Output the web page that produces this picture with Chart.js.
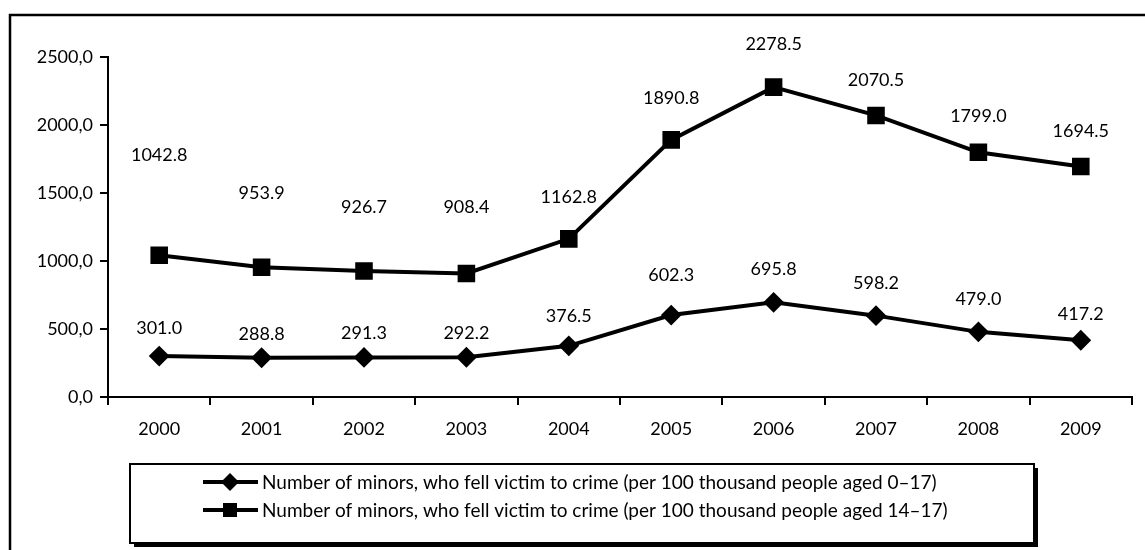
<!DOCTYPE html>
<html>
<head>
<meta charset="utf-8">
<script src="https://cdn.jsdelivr.net/npm/chart.js@4"></script>
<style>
  html, body { margin: 0; padding: 0; background: #fff; }
  #wrap { width: 1145px; height: 550px; position: relative; }
</style>
</head>
<body>
<div id="wrap"><canvas id="chart"></canvas></div>
<script>
/***********************
 * DATA
 ***********************/
const years = ["2000", "2001", "2002", "2003", "2004", "2005", "2006", "2007", "2008", "2009"];
const aged0to17 = [301.0, 288.8, 291.3, 292.2, 376.5, 602.3, 695.8, 598.2, 479.0, 417.2];
const aged14to17 = [1042.8, 953.9, 926.7, 908.4, 1162.8, 1890.8, 2278.5, 2070.5, 1799.0, 1694.5];
const seriesNames = [
  "Number of minors, who fell victim to crime (per 100 thousand people aged 0\u201317)",
  "Number of minors, who fell victim to crime (per 100 thousand people aged 14\u201317)",
];

// how far above its point each value label sits (px), as placed in the original
const liftDiamond = [28, 24, 24, 24, 30, 40, 33, 32, 33, 26];
const liftSquare = [100, 74, 64, 66, 42, 42, 43, 35, 36, 35];

const FONT = "Lato, 'Open Sans', sans-serif";
const FS = 18;
const LEGEND_FS = 19;

/***********************
 * Plugins
 ***********************/
const frame = {
  id: "frame",
  beforeDraw(chart) {
    const c = chart.ctx;
    c.save();
    c.fillStyle = "#fff";
    c.fillRect(0, 0, chart.width, chart.height);
    c.strokeStyle = "#000";
    c.lineWidth = 2.5;
    c.beginPath();
    c.moveTo(10, chart.height);
    c.lineTo(10, 15);
    c.lineTo(chart.width, 15);
    c.stroke();
    c.restore();
  },
};

const valueLabels = {
  id: "valueLabels",
  afterDatasetsDraw(chart) {
    const c = chart.ctx;
    c.save();
    c.font = `${FS}px ${FONT}`;
    c.fillStyle = "#000";
    c.textAlign = "center";
    c.textBaseline = "middle";
    const lifts = [liftDiamond, liftSquare];
    chart.data.datasets.forEach((ds, i) => {
      chart.getDatasetMeta(i).data.forEach((p, j) => {
        c.fillText(ds.data[j].toFixed(1), p.x, p.y - lifts[i][j]);
      });
    });
    c.restore();
  },
};

const boxLegend = {
  id: "boxLegend",
  afterDraw(chart) {
    const c = chart.ctx;
    const x = 130, y = 464, w = 904, h = 79;
    c.save();
    // shadow
    c.fillStyle = "#000";
    c.fillRect(x + 4, y + 4, w, h);
    c.fillStyle = "#fff";
    c.fillRect(x, y, w, h);
    c.strokeStyle = "#000";
    c.lineWidth = 2;
    c.strokeRect(x, y, w, h);

    const rows = [482, 510];
    const styles = ["rectRot", "rect"];
    rows.forEach((ry, i) => {
      c.lineWidth = 4;
      c.beginPath();
      c.moveTo(203, ry);
      c.lineTo(258, ry);
      c.stroke();
      c.fillStyle = "#000";
      if (styles[i] === "rectRot") {
        c.beginPath();
        c.moveTo(230, ry - 9);
        c.lineTo(239, ry);
        c.lineTo(230, ry + 9);
        c.lineTo(221, ry);
        c.closePath();
        c.fill();
      } else {
        c.fillRect(223, ry - 7, 14, 14);
      }
      c.font = `${LEGEND_FS}px ${FONT}`;
      c.textAlign = "left";
      c.textBaseline = "middle";
      c.fillText(seriesNames[i], 262, ry + 1);
    });
    c.restore();
  },
};

/***********************
 * Chart
 ***********************/
function init() {
  const canvas = document.getElementById("chart");
  canvas.width = 1145;
  canvas.height = 550;

  new Chart(canvas, {
    type: "line",
    data: {
      labels: years,
      datasets: [
        {
          label: seriesNames[0],
          data: aged0to17,
          borderColor: "#000",
          backgroundColor: "#000",
          borderWidth: 4,
          pointStyle: "rectRot",
          pointRadius: 9,
          pointBorderWidth: 2,
          tension: 0,
        },
        {
          label: seriesNames[1],
          data: aged14to17,
          borderColor: "#000",
          backgroundColor: "#000",
          borderWidth: 4,
          pointStyle: "rect",
          pointRadius: 11,
          pointBorderWidth: 2,
          tension: 0,
        },
      ],
    },
    options: {
      responsive: false,
      animation: false,
      devicePixelRatio: 1,
      layout: { padding: { left: 10, top: 57, right: 7, bottom: 0 } },
      plugins: { legend: { display: false }, tooltip: { enabled: false } },
      scales: {
        x: {
          offset: true,
          grid: { offset: true, drawOnChartArea: false, color: "#000", lineWidth: 2, tickLength: 8 },
          border: { color: "#000", width: 2 },
          ticks: { color: "#000", font: { family: FONT, size: FS }, padding: 13, maxRotation: 0 },
          afterFit(s) { s.height = 153; },
        },
        y: {
          min: 0,
          max: 2500,
          ticks: {
            stepSize: 500,
            color: "#000",
            font: { family: FONT, size: FS },
            padding: 7,
            callback: (v) => v.toFixed(1).replace(".", ","),
          },
          grid: { drawOnChartArea: false, color: "#000", lineWidth: 2, tickLength: 8 },
          border: { color: "#000", width: 2 },
          afterFit(s) { s.width = 98; },
        },
      },
    },
    plugins: [frame, valueLabels, boxLegend],
  });
}

document.addEventListener("DOMContentLoaded", init);
</script>
</body>
</html>
